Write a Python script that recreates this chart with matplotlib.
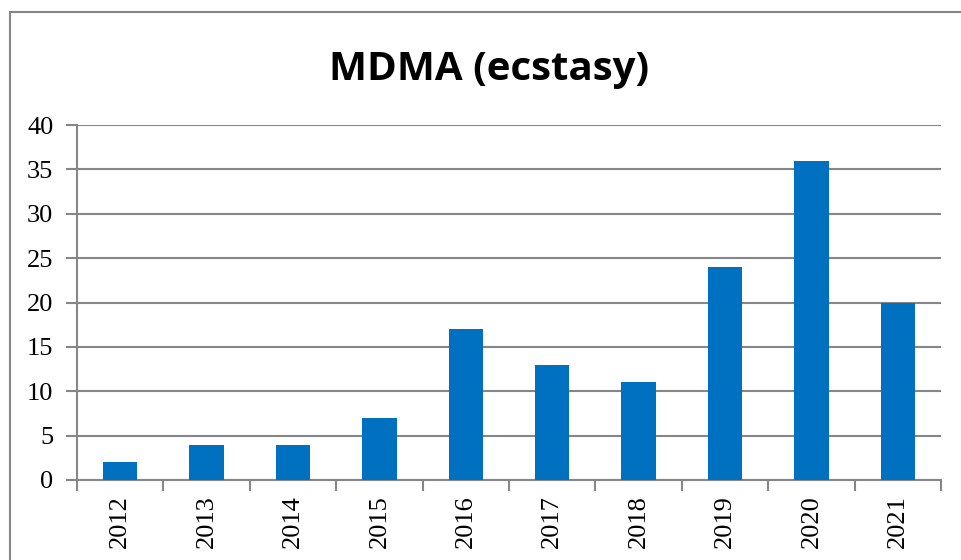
import matplotlib.pyplot as plt
from matplotlib.patches import Rectangle

years = ["2012", "2013", "2014", "2015", "2016", "2017", "2018", "2019", "2020", "2021"]
counts = [2, 4, 4, 7, 17, 13, 11, 24, 36, 20]
y_ticks = [0, 5, 10, 15, 20, 25, 30, 35, 40]

W, H = 961, 560
grid_color = '#868686'

fig = plt.figure(figsize=(W / 100, H / 100), dpi=100)
ax = fig.add_axes([77 / W, 80 / H, (941 - 77) / W, (480 - 125) / H])

x = list(range(len(years)))
ax.bar(x, counts, width=0.4, color='#0070C0', zorder=3)

ax.set_xlim(-0.5, len(years) - 0.5)
ax.set_ylim(0, 40)
ax.set_yticks(y_ticks)
ax.set_yticklabels([str(t) for t in y_ticks], family='Liberation Serif', fontsize=19)
ax.set_xticks(x)
ax.set_xticklabels(years, rotation=90, family='Liberation Serif', fontsize=19)
ax.set_xticks([i - 0.5 for i in range(len(years) + 1)], minor=True)
ax.tick_params(axis='x', which='major', length=0, pad=11)
ax.tick_params(axis='x', which='minor', length=8, width=1.5, color=grid_color)
ax.tick_params(axis='y', length=8, width=1.5, color=grid_color, pad=9)

ax.grid(axis='y', color=grid_color, linewidth=1.5, zorder=0)
for s in ['top', 'right']:
    ax.spines[s].set_visible(False)
for s in ['left', 'bottom']:
    ax.spines[s].set_color(grid_color)
    ax.spines[s].set_linewidth(1.5)

fig.text(489 / W, 1 - 80 / H, "MDMA (ecstasy)", ha='center', va='baseline',
         family='Open Sans', fontweight='bold', fontsize=29)

# chart border, running off the right and bottom edges
fig.patches.append(Rectangle((10 / W, -0.1), 1.2, 1.1 - 12 / H, transform=fig.transFigure,
                             fill=False, edgecolor=grid_color, linewidth=1.5))

fig.savefig('out.png', dpi=100)
